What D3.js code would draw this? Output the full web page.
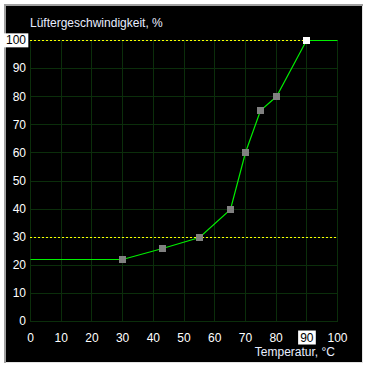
<!DOCTYPE html>
<html lang="de">
<head>
    <script src="https://d3js.org/d3.v7.min.js"></script>
    <style>
        body { margin: 0; background: #fff; }
        text { font-family: 'Liberation Sans', Arial, sans-serif; font-size: 12px; }
    </style>
</head>
<body>

<script>
    var w = 367;
    var h = 369;

    // fan curve points (temperature °C -> fan speed %)
    var temps  = [30, 43, 55, 65, 70, 75, 80, 90];
    var speeds = [22, 26, 30, 40, 60, 75, 80, 100];
    // curve continues flat to the edges
    var lineStart = [0, 22];
    var lineEnd = [100, 100];
    var limits = [30, 100];
    var xTicks = [0, 10, 20, 30, 40, 50, 60, 70, 80, 90, 100];
    var yTicks = [0, 10, 20, 30, 40, 50, 60, 70, 80, 90, 100];
    var xMarked = 90;
    var yMarked = 100;

    var x = d3.scaleLinear().domain([0, 100]).range([30, 337]);
    var y = d3.scaleLinear().domain([0, 100]).range([321, 40]);

    var svg = d3.select('body').append('svg').attr('width', w).attr('height', h);

    // panel with sunken border
    svg.append('rect').attr('x', 4).attr('y', 4).attr('width', 359).attr('height', 359).attr('fill', '#a0a0a0');
    svg.append('rect').attr('x', 6).attr('y', 6).attr('width', 357).attr('height', 357).attr('fill', '#e3e3e3');
    svg.append('rect').attr('x', 6).attr('y', 6).attr('width', 356).attr('height', 356).attr('fill', '#000');

    // grid
    var grid = svg.append('g').attr('shape-rendering', 'crispEdges');
    grid.selectAll('.vx').data(xTicks).enter().append('line')
        .attr('x1', function(d) { return Math.round(x(d)) + 0.5; })
        .attr('x2', function(d) { return Math.round(x(d)) + 0.5; })
        .attr('y1', y(100)).attr('y2', y(0) + 0.5)
        .attr('stroke', '#0b2e0b');
    grid.selectAll('.hy').data(yTicks).enter().append('line')
        .attr('y1', function(d) { return Math.round(y(d)) + 0.5; })
        .attr('y2', function(d) { return Math.round(y(d)) + 0.5; })
        .attr('x1', x(0)).attr('x2', x(100) + 1)
        .attr('stroke', '#0b2e0b');

    // limit lines
    svg.selectAll('.limit').data(limits).enter().append('line')
        .attr('x1', x(0))
        .attr('x2', function(d) { return d === 100 ? x(90) : x(100); })
        .attr('y1', function(d) { return Math.round(y(d)) + 0.5; })
        .attr('y2', function(d) { return Math.round(y(d)) + 0.5; })
        .attr('stroke', '#ffff00')
        .attr('stroke-dasharray', '2,2')
        .attr('shape-rendering', 'crispEdges');

    // curve
    var pts = [lineStart].concat(temps.map(function(t, i) { return [t, speeds[i]]; }), [lineEnd]);
    var lineFun = d3.line()
        .x(function(d) { return Math.round(x(d[0])) + 0.5; })
        .y(function(d) { return Math.round(y(d[1])) + 0.5; });
    svg.append('path')
        .attr('d', lineFun(pts))
        .attr('fill', 'none')
        .attr('stroke', '#00ee00')
        .attr('stroke-width', 1.2);

    // markers
    svg.selectAll('.pt').data(temps).enter().append('rect')
        .attr('x', function(d) { return Math.round(x(d)) - 3; })
        .attr('y', function(d, i) { return Math.round(y(speeds[i])) - 3; })
        .attr('width', 7).attr('height', 7)
        .attr('fill', function(d, i) { return i === temps.length - 1 ? '#ffffff' : '#808080'; })
        .attr('shape-rendering', 'crispEdges');

    // axes labels
    var xAxis = svg.append('g').attr('transform', 'translate(0,' + y(0) + ')')
        .call(d3.axisBottom(x).tickValues(xTicks).tickSize(0).tickPadding(12));
    var yAxis = svg.append('g').attr('transform', 'translate(' + x(0) + ',0)')
        .call(d3.axisLeft(y).tickValues(yTicks).tickSize(0).tickPadding(4));
    [xAxis, yAxis].forEach(function(a) {
        a.select('.domain').remove();
        a.selectAll('text').attr('fill', '#ffffff').style('font-size', '12px')
            .style('font-family', "'Liberation Sans', Arial, sans-serif");
    });

    // highlighted tick labels (current point)
    function mark(axis, value) {
        axis.selectAll('.tick').filter(function(d) { return d === value; }).each(function() {
            var t = d3.select(this).select('text');
            var b = t.node().getBBox();
            d3.select(this).insert('rect', 'text')
                .attr('x', b.x - 2).attr('y', b.y).attr('width', b.width + 4).attr('height', b.height)
                .attr('fill', '#ffffff');
            t.attr('fill', '#000000');
        });
    }
    mark(xAxis, xMarked);
    mark(yAxis, yMarked);

    svg.append('text').attr('x', 30).attr('y', 27)
        .attr('fill', '#e8eeff')
        .text('Lüftergeschwindigkeit, %');
    svg.append('text').attr('x', 335).attr('y', 356)
        .attr('text-anchor', 'end')
        .attr('fill', '#e8eeff')
        .text('Temperatur, °C');
</script>
</body>
</html>
